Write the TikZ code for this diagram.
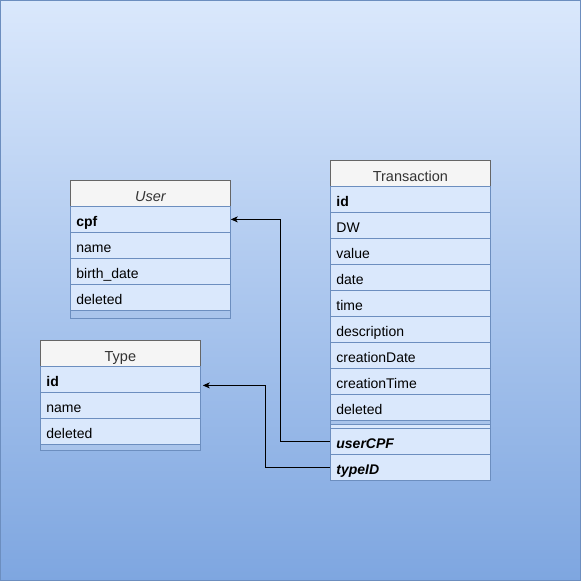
\documentclass[tikz,border=0pt]{standalone}
\usepackage{fontspec}
\setmainfont{Liberation Sans}
\usetikzlibrary{positioning,arrows.meta}
\definecolor{bgtop}{HTML}{DAE8FC}
\definecolor{bgbot}{HTML}{7EA6E0}
\definecolor{rim}{HTML}{6C8EBF}
\definecolor{hdfill}{HTML}{F5F5F5}
\definecolor{hdline}{HTML}{666666}
\definecolor{hdtext}{HTML}{333333}
\definecolor{band}{HTML}{A9C4EB}

\begin{document}
\begin{tikzpicture}[x=1pt,y=-1pt,line width=0.8pt,
  hdr/.style={draw=hdline,fill=hdfill,text=hdtext,minimum width=160pt,minimum height=26pt,inner sep=0pt,text height=17pt,text depth=0pt,anchor=north west,font=\fontsize{14.5}{16}\selectfont},
  fld/.style={draw=rim,fill=bgtop,minimum height=26pt,text width=148pt,inner xsep=6pt,inner ysep=0pt,text height=13.6pt,text depth=0pt,anchor=north west,align=left,font=\fontsize{14}{16}\selectfont},
  key/.style={fld,font=\fontsize{14}{16}\selectfont\bfseries},
  fkey/.style={fld,font=\fontsize{14}{16}\selectfont\bfseries\itshape},
  foot/.style={draw=rim,fill=band,minimum width=160pt,inner sep=0pt,anchor=north west},
  fk/.style={draw=black,-{Stealth[length=7pt,width=6pt,inset=2pt]}}]
  \useasboundingbox (0,0) rectangle (581,581);
  \shade[top color=bgtop,bottom color=bgbot,draw=rim] (0.5,0.5) rectangle (580.5,580.5);
  % User
  \node[hdr] (uHead) at (70,180) {\itshape User};
  \node[key] (uCpf) at (70,206) {cpf};
  \node[fld] (uName) at (70,232) {name};
  \node[fld] (uBirth) at (70,258) {birth\_date};
  \node[fld] (uDel) at (70,284) {deleted};
  \node[foot,minimum height=8pt] (uFoot) at (70,310) {};
  % Type
  \node[hdr] (yHead) at (40,340) {Type};
  \node[key] (yId) at (40,366) {id};
  \node[fld] (yName) at (40,392) {name};
  \node[fld] (yDel) at (40,418) {deleted};
  \node[foot,minimum height=6pt] (yFoot) at (40,444) {};
  % Transaction
  \node[hdr] (tHead) at (330,160) {Transaction};
  \node[key] (tId) at (330,186) {id};
  \node[fld] (tDW) at (330,212) {DW};
  \node[fld] (tValue) at (330,238) {value};
  \node[fld] (tDate) at (330,264) {date};
  \node[fld] (tTime) at (330,290) {time};
  \node[fld] (tDesc) at (330,316) {description};
  \node[fld] (tCDate) at (330,342) {creationDate};
  \node[fld] (tCTime) at (330,368) {creationTime};
  \node[fld] (tDel) at (330,394) {deleted};
  \node[foot,minimum height=4pt] (tSep) at (330,420) {};
  \node[foot,fill=bgtop,minimum height=4pt] (tSep2) at (330,424) {};
  \node[fkey] (tUser) at (330,428) {userCPF};
  \node[fkey] (tType) at (330,454) {typeID};
  % foreign keys
  \draw[fk] (tUser.west) -- ++(-50,0) |- (uCpf.east);
  \draw[fk] (tType.west) -- ++(-65,0) |- ([xshift=2pt,yshift=-6pt]yId.east);
\end{tikzpicture}
\end{document}
